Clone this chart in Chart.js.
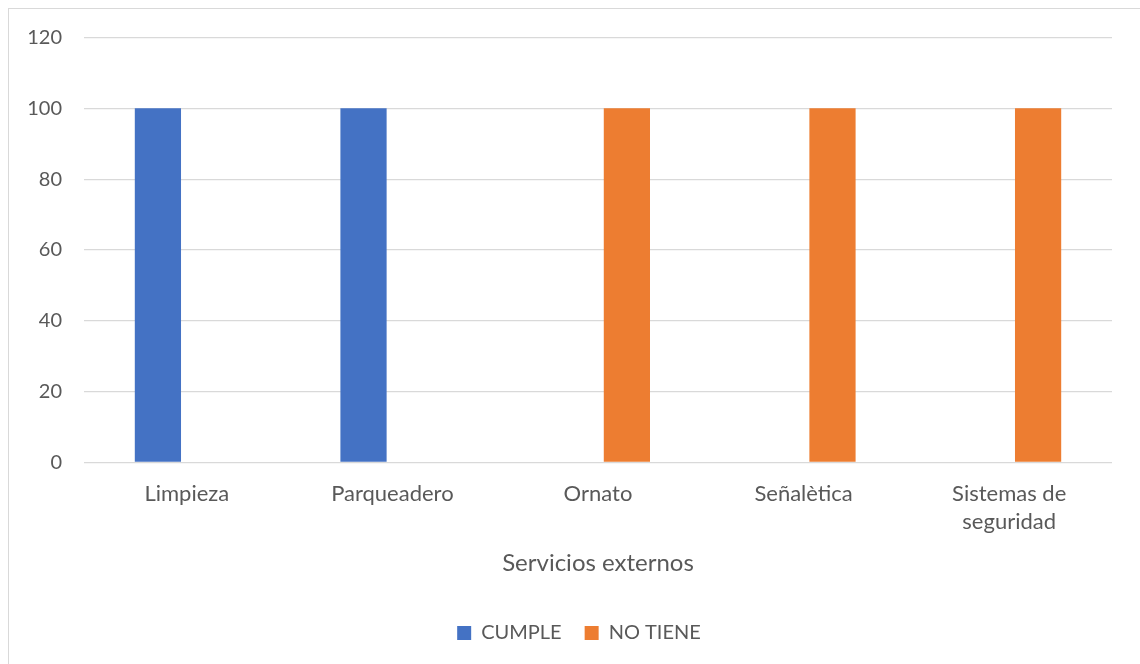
<!DOCTYPE html>
<html>
<head>
<meta charset="utf-8">
<script src="https://cdn.jsdelivr.net/npm/chart.js@4/dist/chart.umd.min.js"></script>
<style>
  html, body { margin: 0; padding: 0; background: #fff; overflow: hidden; }
  #wrap { position: absolute; left: 0; top: 0; width: 1140px; height: 664px; }
  #frame { position: absolute; left: 8px; top: 8px; width: 1140px; height: 664px;
           border-left: 1.5px solid #d9d9d9; border-top: 1.5px solid #d9d9d9; pointer-events: none; }
</style>
</head>
<body>
<div id="wrap"><canvas id="c" width="1140" height="664"></canvas></div>
<div id="frame"></div>
<script>
const categories = ["Limpieza", "Parqueadero", "Ornato", "Señalètica", ["Sistemas de", "seguridad"]];
const cumple = [100, 100, 0, 0, 0];
const noTiene = [0, 0, 100, 100, 100];
const seriesNames = ["CUMPLE", "NO TIENE"];
const yMin = 0, yMax = 120, yStep = 20;
const xTitle = "Servicios externos";

const FONT = "Lato, 'Open Sans', sans-serif";
const TXT = "#595959";

const shiftLegend = {
  id: "shiftLegend",
  afterLayout(chart) {
    if (chart.legend) { chart.legend.left += 23; chart.legend.right += 23; }
  }
};

new Chart(document.getElementById("c"), {
  type: "bar",
  data: {
    labels: categories,
    datasets: [
      { label: seriesNames[0], data: cumple, backgroundColor: "#4472C4", borderWidth: 0 },
      { label: seriesNames[1], data: noTiene, backgroundColor: "#ED7D31", borderWidth: 0 }
    ]
  },
  plugins: [shiftLegend],
  options: {
    responsive: false,
    animation: false,
    devicePixelRatio: 1,
    categoryPercentage: 0.562,
    barPercentage: 0.8,
    layout: { padding: { left: 0, right: 28, top: 37.5, bottom: 11 } },
    plugins: {
      tooltip: { enabled: false },
      legend: {
        position: "bottom",
        labels: {
          boxWidth: 14, boxHeight: 14, padding: 23,
          color: TXT, font: { family: FONT, size: 20 }
        }
      }
    },
    scales: {
      x: {
        grid: { display: false, drawTicks: false },
        border: { display: false },
        ticks: { color: TXT, padding: 17, maxRotation: 0, autoSkip: false,
                 font: { family: FONT, size: 22, lineHeight: 1.27 } },
        title: { display: true, text: xTitle, color: TXT,
                 font: { family: FONT, size: 24, lineHeight: 1.2 },
                 padding: { top: 0, bottom: 22.6 } },
        afterFit: (s) => { s.height = 137.5; }
      },
      y: {
        min: yMin, max: yMax,
        ticks: { stepSize: yStep, color: TXT, padding: 22, font: { family: FONT, size: 20 } },
        grid: { color: "#d9d9d9", lineWidth: 1.3, drawTicks: false },
        border: { display: false },
        afterFit: (s) => { s.width = 84; }
      }
    }
  }
});
</script>
</body>
</html>
